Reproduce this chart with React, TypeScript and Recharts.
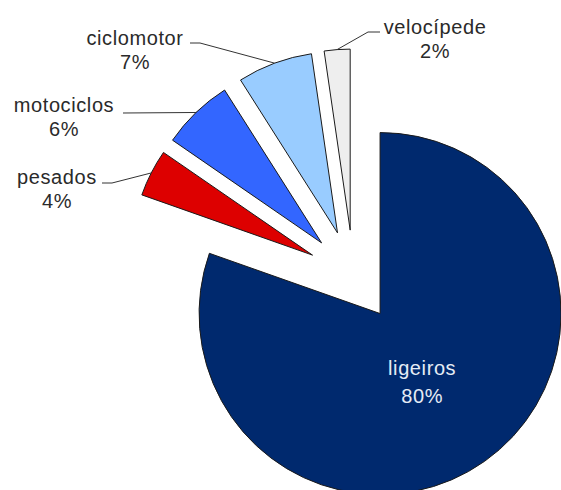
import { PieChart, Pie, Cell } from "recharts"

// vehicle category shares (%)
const categories = ["ligeiros", "pesados", "motociclos", "ciclomotor", "velocípede"]
const shares = [80.4, 4.2, 6.4, 6.7, 2.3]
const percentLabels = ["80%", "4%", "6%", "7%", "2%"]

const colors = ["#00296E", "#DD0000", "#3366FF", "#99CCFF", "#EEEEEE"]

const WIDTH = 561
const HEIGHT = 490
const CX = 353.5
const CY = 276
const RADIUS = 181
const EXPLODE = 46
const FONT = "'Liberation Sans', Arial, sans-serif"

// where the outside labels sit: text centre, elbow of the leader line, line end
const outsideLabels: { [key: string]: { x: number; y: number; elbow: [number, number]; end: [number, number] } } = {
  "velocípede": { x: 435, y: 27, elbow: [368, 32], end: [380, 32] },
  ciclomotor: { x: 135, y: 38, elbow: [200, 43], end: [190, 43] },
  motociclos: { x: 64, y: 105, elbow: [123, 113], end: [123, 113] },
  pesados: { x: 57, y: 177, elbow: [112, 183], end: [102, 183] },
}

const data = categories.map((name, i) => ({ name, value: shares[i], pct: percentLabels[i] }))

const total = shares.reduce((a, b) => a + b, 0)

// mid angle of each slice, clockwise from 12 o'clock, used to push it outward
const midAngles = (() => {
  let acc = 0
  return shares.map((v) => {
    const mid = ((acc + v / 2) / total) * Math.PI * 2
    acc += v
    return mid
  })
})()

const RAD = Math.PI / 180

const textStyle = { fontSize: 20, fontFamily: FONT, letterSpacing: 0.6 }

function makeLabel(target: number) {
  return (props: any) => {
    const { cx, cy, midAngle, outerRadius, index } = props
    if (index !== target) return null
    const d = data[index]
    if (index === 0) {
      // inside label for the big slice
      const r = outerRadius * 0.46
      const x = cx + r * Math.cos(-midAngle * RAD)
      const y = cy + r * Math.sin(-midAngle * RAD)
      return (
        <g>
          <text x={x - 6} y={y - 14} fill="#E6ECF5" style={textStyle} textAnchor="middle" dominantBaseline="central">
            {d.name}
          </text>
          <text x={x - 6} y={y + 14} fill="#E6ECF5" style={textStyle} textAnchor="middle" dominantBaseline="central">
            {d.pct}
          </text>
        </g>
      )
    }
    const pos = outsideLabels[d.name]
    const sx = cx + outerRadius * Math.cos(-midAngle * RAD)
    const sy = cy + outerRadius * Math.sin(-midAngle * RAD)
    return (
      <g>
        <polyline
          points={`${sx},${sy} ${pos.elbow[0]},${pos.elbow[1]} ${pos.end[0]},${pos.end[1]}`}
          fill="none"
          stroke="#333"
          strokeWidth={1}
        />
        <text x={pos.x} y={pos.y} fill="#2a2a2a" style={textStyle} textAnchor="middle" dominantBaseline="central">
          {d.name}
        </text>
        <text x={pos.x} y={pos.y + 24} fill="#2a2a2a" style={textStyle} textAnchor="middle" dominantBaseline="central">
          {d.pct}
        </text>
      </g>
    )
  }
}

export default function App() {
  return (
    <div style={{ position: "absolute", left: 0, top: 0, width: WIDTH, height: HEIGHT, background: "#fff" }}>
      <PieChart width={WIDTH} height={HEIGHT} margin={{ top: 0, right: 0, bottom: 0, left: 0 }}>
        {categories.map((name, k) => (
          <Pie
            key={name}
            data={data}
            dataKey="value"
            nameKey="name"
            cx={CX + EXPLODE * Math.sin(midAngles[k])}
            cy={CY - EXPLODE * Math.cos(midAngles[k])}
            outerRadius={RADIUS}
            startAngle={90}
            endAngle={-270}
            labelLine={false}
            label={makeLabel(k)}
            isAnimationActive={false}
          >
            {data.map((d, i) =>
              i === k ? (
                <Cell key={d.name} fill={colors[i]} stroke="#1a1a1a" strokeWidth={1} />
              ) : (
                <Cell key={d.name} fill="none" stroke="none" />
              )
            )}
          </Pie>
        ))}
      </PieChart>
    </div>
  )
}
